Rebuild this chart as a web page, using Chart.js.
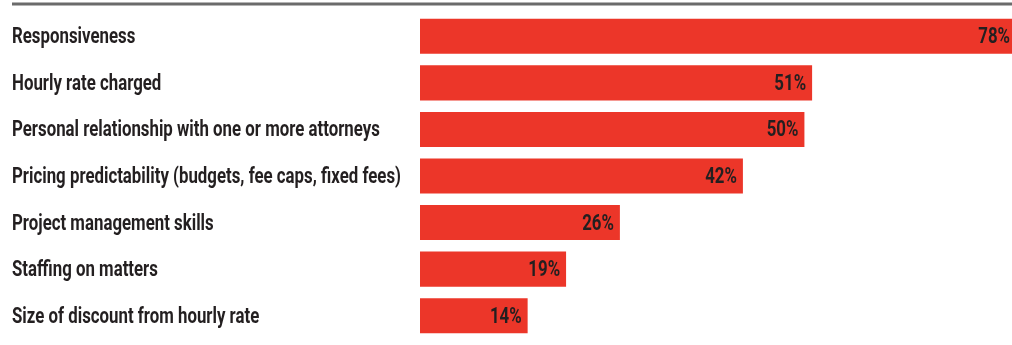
<!DOCTYPE html>
<html>
<head>
<meta charset="utf-8">
<script src="https://cdn.jsdelivr.net/npm/chart.js@4"></script>
<style>
  body { margin: 0; background: #fff; }
  canvas { display: block; }
</style>
</head>
<body>
<canvas id="myChart" width="1012" height="345"></canvas>
<script>
// factors and share of respondents (%)
const factors = [
  'Responsiveness',
  'Hourly rate charged',
  'Personal relationship with one or more attorneys',
  'Pricing predictability (budgets, fee caps, fixed fees)',
  'Project management skills',
  'Staffing on matters',
  'Size of discount from hourly rate'
];
const shares = [78, 51, 50, 42, 26, 19, 14];

const FONT = "bold 22px Roboto, 'Noto Sans', sans-serif";
const INK = '#231f20';

// grey rule across the top
const topRule = {
  id: 'topRule',
  beforeDraw(chart) {
    const ctx = chart.ctx;
    ctx.save();
    ctx.strokeStyle = '#6b6b6b';
    ctx.lineWidth = 3;
    ctx.beginPath();
    ctx.moveTo(12, 4);
    ctx.lineTo(chart.width, 4);
    ctx.stroke();
    ctx.restore();
  }
};

// narrow (squeezed) text, the longest label sets the squeeze
let squeeze = 1;
function narrowText(ctx, text, x, y, align) {
  ctx.save();
  ctx.translate(x, y);
  ctx.scale(squeeze, 1);
  ctx.textAlign = align;
  ctx.fillText(text, 0, 0);
  ctx.restore();
}

// category names on the left, percents at the bar ends
const labels = {
  id: 'labels',
  afterDatasetsDraw(chart) {
    const ctx = chart.ctx;
    const yScale = chart.scales.y;
    const meta = chart.getDatasetMeta(0);
    ctx.save();
    ctx.font = FONT;
    ctx.fillStyle = INK;
    ctx.textBaseline = 'alphabetic';
    const longest = Math.max(...factors.map(f => ctx.measureText(f).width));
    squeeze = 389 / longest;
    factors.forEach((f, i) => {
      narrowText(ctx, f, 12, yScale.getPixelForTick(i) + 7, 'left');
    });
    meta.data.forEach((bar, i) => {
      const x = Math.min(bar.x - 6, chart.width - 2);
      narrowText(ctx, shares[i] + '%', x, bar.y + 7, 'right');
    });
    ctx.restore();
  }
};

const data = {
  labels: factors,
  datasets: [{
    data: shares,
    backgroundColor: '#ec3629',
    borderWidth: 0,
    barPercentage: 0.753,
    categoryPercentage: 1
  }]
};

const config = {
  type: 'bar',
  data: data,
  options: {
    indexAxis: 'y',
    responsive: false,
    animation: false,
    layout: { padding: { top: 13, bottom: 6, left: 12, right: 0 } },
    plugins: {
      legend: { display: false },
      tooltip: { enabled: false }
    },
    scales: {
      x: { display: false, min: 0, max: 77 },
      y: {
        grid: { display: false },
        border: { display: false },
        ticks: { display: false },
        afterFit(scale) { scale.width = 408; }
      }
    }
  },
  plugins: [topRule, labels]
};

const myChart = new Chart(document.getElementById('myChart'), config);
</script>
</body>
</html>
